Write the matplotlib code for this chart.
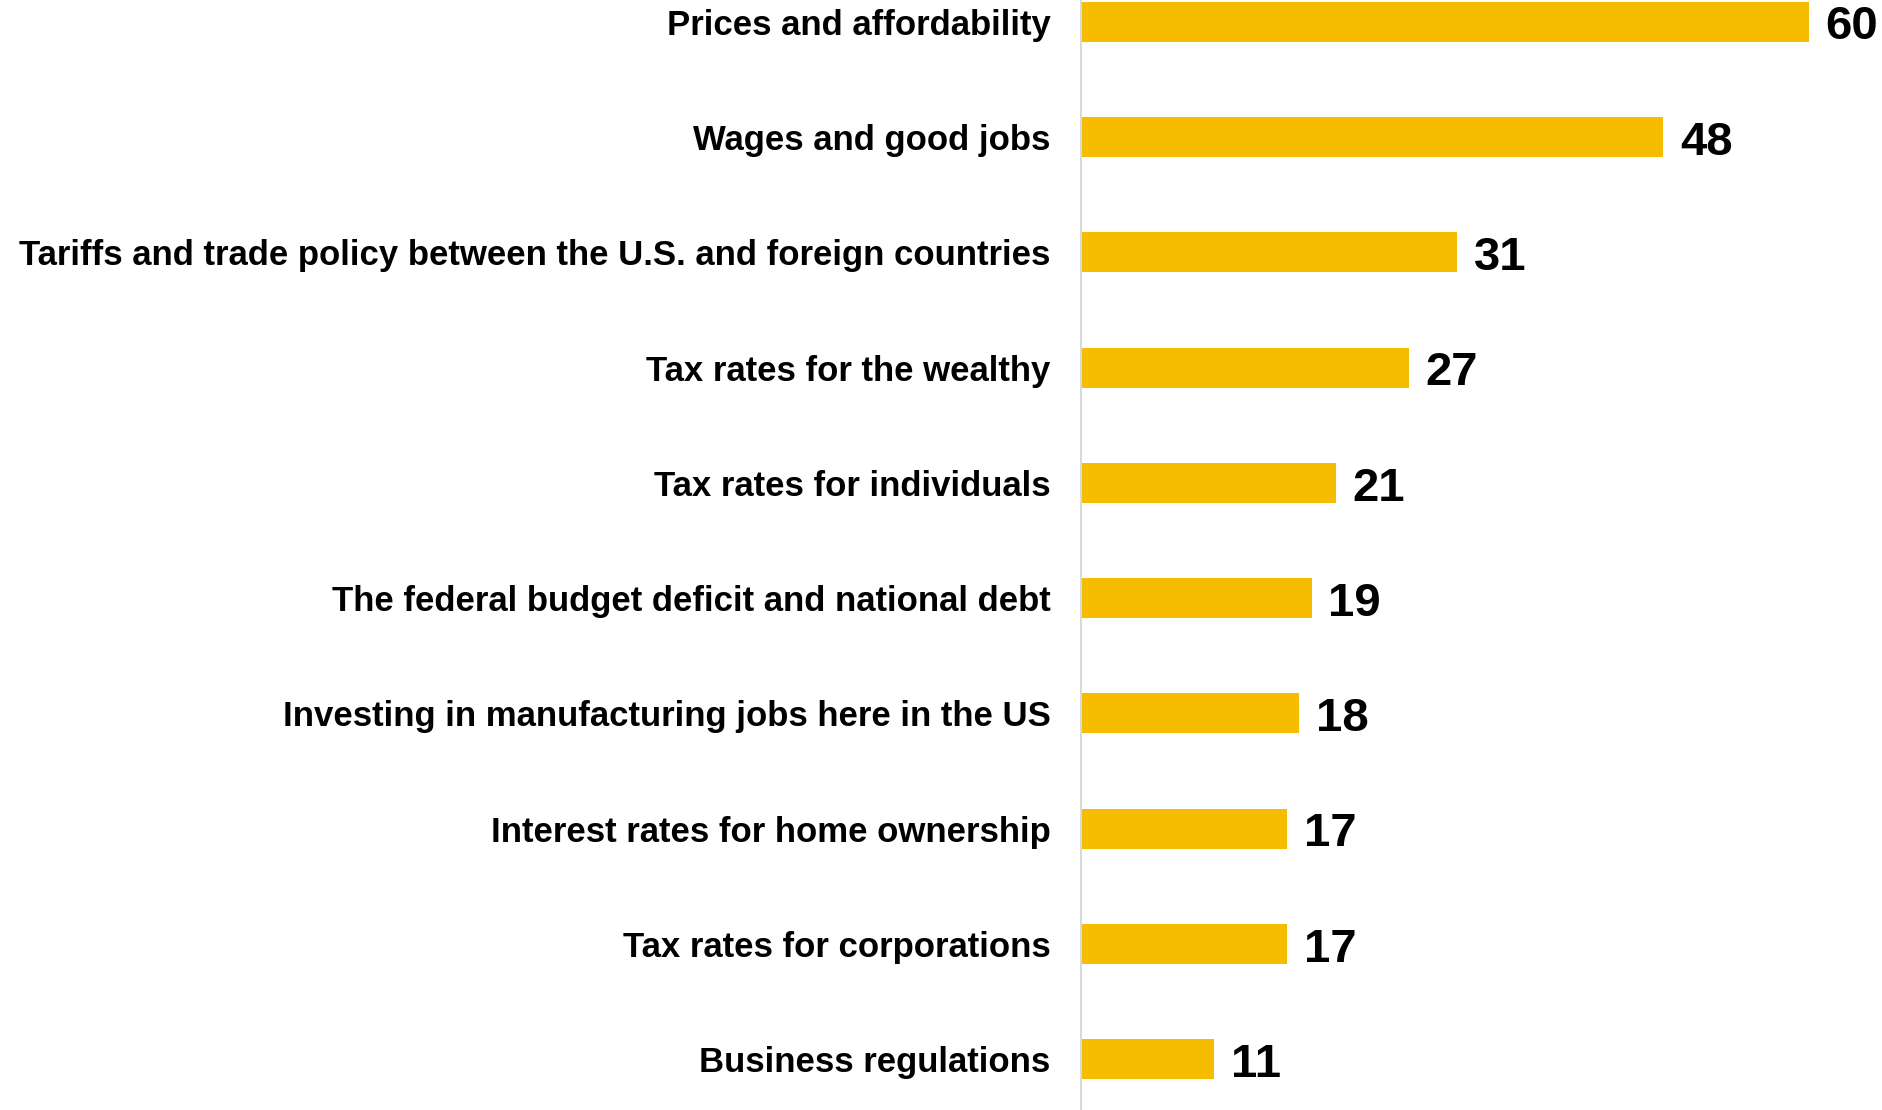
import matplotlib.pyplot as plt

categories = [
    "Prices and affordability",
    "Wages and good jobs",
    "Tariffs and trade policy between the U.S. and foreign countries",
    "Tax rates for the wealthy",
    "Tax rates for individuals",
    "The federal budget deficit and national debt",
    "Investing in manufacturing jobs here in the US",
    "Interest rates for home ownership",
    "Tax rates for corporations",
    "Business regulations",
]
values = [60, 48, 31, 27, 21, 19, 18, 17, 17, 11]

bar_color = "#F5BC00"

plt.rcParams['font.family'] = ['Liberation Sans', 'DejaVu Sans']

fig = plt.figure(figsize=(18.83, 11.10), dpi=100)
ax = fig.add_axes([1081 / 1883, 0.0, 1 - 1081 / 1883, 1.0])

pos = list(range(len(categories)))
ax.barh(pos, values, height=0.347, color=bar_color)

for p, v in zip(pos, values):
    ax.annotate(str(v), (v, p), xytext=(12, -4), textcoords="offset points",
                ha="left", va="center", fontsize=34, fontweight="bold", color="black")

ax.set_yticks(pos)
ax.set_yticklabels(categories, fontsize=25, fontweight="bold")
ax.tick_params(axis="y", length=0, pad=22)
ax.set_xticks([])
ax.set_xlim(0, 66.1)
ax.set_ylim(9.44, -0.19)

for side in ["top", "right", "bottom"]:
    ax.spines[side].set_visible(False)
ax.spines["left"].set_color("#D9D9D9")
ax.spines["left"].set_linewidth(1.5)

fig.savefig("out.png", dpi=100)
